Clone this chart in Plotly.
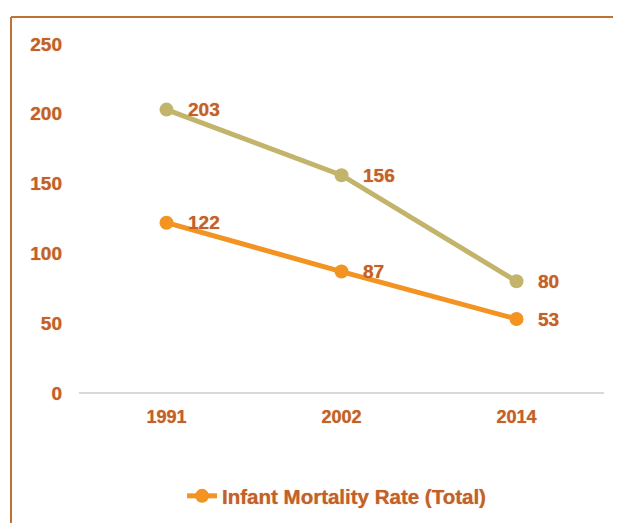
import plotly.graph_objects as go

years = ["1991", "2002", "2014"]
series_a_name = "Series A"
series_a = [203, 156, 80]
series_b_name = "Infant Mortality Rate (Total)"
series_b = [122, 87, 53]
y_ticks = [0, 50, 100, 150, 200, 250]

# page has an 8px body margin, so the figure is sized to fit the 621x523 window
W, H = 613, 515
ml, mr, mt, mb = 71, 17, 36, 130
pw, ph = W - ml - mr, H - mt - mb

text_color = "#c1612b"
fam = "Liberation Sans, Arial, sans-serif"
def f(size):
    return dict(family=fam, size=size, color=text_color, weight="bold",
                shadow="0px 0px 1px rgba(225,130,60,0.9)")

col_a = "#c3b46b"
col_b = "#f29322"

fig = go.Figure()
fig.add_trace(go.Scatter(
    x=years, y=series_a, name=series_a_name, mode="lines+markers",
    line=dict(color=col_a, width=5), marker=dict(size=14, color=col_a),
    showlegend=False, cliponaxis=False))
fig.add_trace(go.Scatter(
    x=years, y=series_b, name=series_b_name, mode="lines+markers",
    line=dict(color=col_b, width=5), marker=dict(size=14, color=col_b),
    cliponaxis=False))

for vals in (series_a, series_b):
    for i, v in enumerate(vals):
        fig.add_annotation(x=i, y=v, xref="x", yref="y", text=str(v), showarrow=False,
                           xanchor="left", yanchor="middle", xshift=19,
                           font=f(19))

def px_x(px):
    return (px - ml) / pw

def px_y(py):
    return 1 - (py - mt) / ph

border = "#c07232"
fig.add_shape(type="line", xref="paper", yref="paper",
              x0=px_x(3), x1=px_x(3), y0=px_y(9), y1=px_y(530),
              line=dict(color=border, width=2))
fig.add_shape(type="line", xref="paper", yref="paper",
              x0=px_x(3), x1=px_x(630), y0=px_y(9), y1=px_y(9),
              line=dict(color=border, width=2))

fig.update_layout(
    width=W, height=H, margin=dict(l=ml, r=mr, t=mt, b=mb),
    paper_bgcolor="white", plot_bgcolor="white",
    font=f(19),
    xaxis=dict(type="category", range=[-0.5, 2.5], showgrid=False, zeroline=False,
               showline=False, ticks="", tickfont=f(18), ticklabelstandoff=11),
    yaxis=dict(range=[0, 250], tickvals=y_ticks, showgrid=False, zeroline=True,
               zerolinecolor="#d9d9d9", zerolinewidth=2, showline=False, ticks="",
               tickfont=f(19), ticklabelstandoff=16),
    legend=dict(orientation="h", xref="container", x=0.536, xanchor="center",
                yref="container", y=27 / H, yanchor="middle", font=f(20.5)),
)

fig.write_html("out.html")
